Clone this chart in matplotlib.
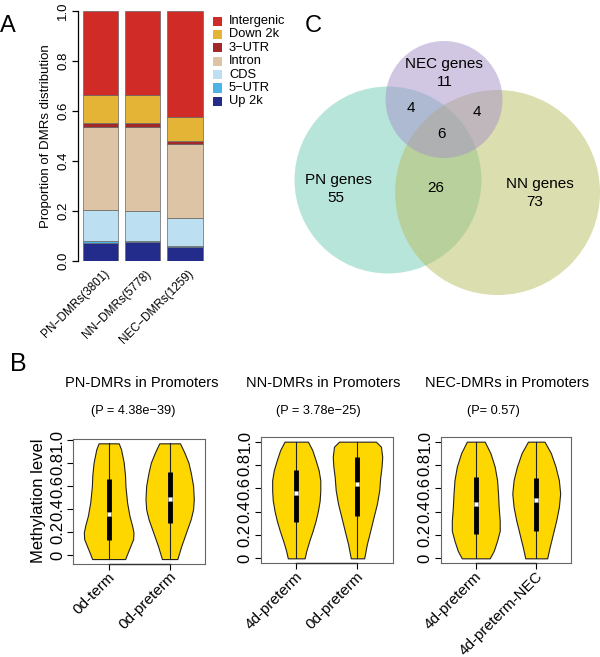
import matplotlib
matplotlib.use("Agg")
import matplotlib.pyplot as plt
import matplotlib.transforms as mtransforms
from matplotlib.patches import Rectangle, Circle

plt.rcParams['font.family'] = ['Liberation Sans', 'DejaVu Sans']

# ---- panel A data: proportion of DMRs per genomic feature ----
groups = ['PN−DMRs(3801)', 'NN−DMRs(5778)', 'NEC−DMRs(1259)']
features = ['Up 2k', '5−UTR', 'CDS', 'Intron', '3−UTR', 'Down 2k', 'Intergenic']
feature_colors = ['#232C8B', '#4DB3E6', '#BCDFF2', '#DCC4A4', '#A3282A', '#E3B436', '#D02B27']
up2k = [0.074, 0.076, 0.057]
utr5 = [0.005, 0.003, 0.004]
cds = [0.125, 0.122, 0.111]
intron = [0.331, 0.336, 0.296]
utr3 = [0.016, 0.016, 0.013]
down2k = [0.113, 0.111, 0.094]
intergenic = [0.336, 0.336, 0.425]

# ---- panel C data: venn counts ----
venn_pn_only = 55
venn_nn_only = 73
venn_nec_only = 11
venn_pn_nec = 4
venn_nn_nec = 4
venn_pn_nn = 26
venn_all = 6

# ---- panel B data: violin outlines (level, half width) ----
pn_term_y = [0.974, 0.922, 0.806, 0.690, 0.603, 0.458, 0.342, 0.255, 0.197, 0.139, 0.081, 0.023, -0.035]
pn_term_w = [0.165, 0.203, 0.247, 0.269, 0.275, 0.302, 0.341, 0.385, 0.407, 0.401, 0.357, 0.313, 0.270]
pn_term_box = [0.133, 0.354, 0.667]
pn_pre_y = [0.974, 0.893, 0.806, 0.719, 0.603, 0.487, 0.400, 0.313, 0.197, 0.081, -0.035]
pn_pre_w = [0.170, 0.242, 0.308, 0.346, 0.385, 0.396, 0.385, 0.346, 0.269, 0.192, 0.126]
pn_pre_box = [0.278, 0.493, 0.725]

nn_4d_y = [1.0, 0.928, 0.841, 0.755, 0.669, 0.582, 0.496, 0.409, 0.323, 0.236, 0.150, 0.063, 0.0]
nn_4d_w = [0.191, 0.262, 0.317, 0.366, 0.393, 0.393, 0.383, 0.355, 0.317, 0.268, 0.213, 0.164, 0.137]
nn_4d_box = [0.308, 0.559, 0.755]
nn_0d_y = [1.0, 0.957, 0.870, 0.784, 0.697, 0.582, 0.467, 0.352, 0.236, 0.121, 0.0]
nn_0d_w = [0.301, 0.383, 0.404, 0.393, 0.372, 0.355, 0.317, 0.262, 0.208, 0.153, 0.109]
nn_0d_box = [0.366, 0.640, 0.865]

nec_4d_y = [1.0, 0.902, 0.786, 0.671, 0.555, 0.439, 0.324, 0.237, 0.150, 0.064, 0.0]
nec_4d_w = [0.148, 0.242, 0.313, 0.352, 0.368, 0.379, 0.396, 0.396, 0.352, 0.297, 0.231]
nec_4d_box = [0.208, 0.468, 0.694]
nec_4dn_y = [1.0, 0.902, 0.786, 0.671, 0.555, 0.439, 0.324, 0.208, 0.092, 0.0]
nec_4dn_w = [0.137, 0.242, 0.319, 0.374, 0.396, 0.374, 0.330, 0.275, 0.220, 0.181]
nec_4dn_box = [0.231, 0.497, 0.685]

titles = ['PN-DMRs in Promoters', 'NN-DMRs in Promoters', 'NEC-DMRs in Promoters']
pvalues = ['(P = 4.38e−39)', '(P = 3.78e−25)', '(P= 0.57)']
violin_labels = [['0d-term', '0d-preterm'], ['4d-preterm', '0d-preterm'], ['4d-preterm', '4d-preterm-NEC']]

W, H = 600, 657


def box(x0, y0, x1, y1):
    # pixel rectangle -> figure fraction
    return [x0 / W, 1 - y1 / H, (x1 - x0) / W, (y1 - y0) / H]


fig = plt.figure(figsize=(6, 6.57), dpi=100)


def shift_labels(labels, dx_px, dy_px=0):
    off = mtransforms.ScaledTranslation(dx_px / 100, -dy_px / 100, fig.dpi_scale_trans)
    for lab in labels:
        lab.set_transform(lab.get_transform() + off)


# ================= panel A =================
axA = fig.add_axes(box(77.7, 11, 215, 261))
xs = [0.7, 1.9, 3.1]
segments = [up2k, utr5, cds, intron, utr3, down2k, intergenic]
bottom = [0, 0, 0]
for seg, col in zip(segments, feature_colors):
    axA.bar(xs, seg, width=1.0, bottom=bottom, color=col, edgecolor='#666666', linewidth=0.5)
    bottom = [b + s for b, s in zip(bottom, seg)]
axA.set_xlim(0.058, 3.95)
axA.set_ylim(0, 1)
for s in ['top', 'right', 'bottom']:
    axA.spines[s].set_visible(False)
axA.spines['left'].set_linewidth(0.9)
axA.set_yticks([0, 0.2, 0.4, 0.6, 0.8, 1.0])
axA.set_yticklabels(['0.0', '0.2', '0.4', '0.6', '0.8', '1.0'], rotation=90, va='center', fontsize=9.5)
axA.tick_params(axis='y', length=4, width=0.9, pad=2)
axA.set_xticks(xs)
axA.set_xticklabels(groups, rotation=45, ha='right', va='center', rotation_mode='anchor', fontsize=8.5)
axA.tick_params(axis='x', length=0, pad=8)
shift_labels(axA.get_xticklabels(), 7)
axA.set_ylabel('Proportion of DMRs distribution', fontsize=9.5, labelpad=4)

# legend drawn top-down
leg_y0 = 21
for i, (name, col) in enumerate(zip(features[::-1], feature_colors[::-1])):
    yy = leg_y0 + i * 13.4
    fig.patches.append(Rectangle((213 / W, 1 - (yy + 4.5) / H), 9 / W, 9 / H,
                                 transform=fig.transFigure, facecolor=col, edgecolor='none'))
    fig.text(229 / W, 1 - yy / H, name, fontsize=9.3, va='center', ha='left')

fig.text(8 / W, 1 - 26 / H, 'A', fontsize=17, ha='center', va='center')

# ================= panel C =================
axC = fig.add_axes(box(270, 0, 600, 330))
axC.set_xlim(270, 600)
axC.set_ylim(330, 0)
axC.axis('off')
axC.add_patch(Circle((388, 180), 93.5, facecolor='#73CDB7', alpha=0.5, edgecolor='none', clip_on=False))
axC.add_patch(Circle((497.5, 192.5), 102.5, facecolor='#B9BF5F', alpha=0.5, edgecolor='none', clip_on=False))
axC.add_patch(Circle((444, 99.5), 58.5, facecolor='#A591C9', alpha=0.5, edgecolor='none', clip_on=False))
vfs = 11
axC.text(444, 64, 'NEC genes', fontsize=vfs, ha='center', va='center')
axC.text(445, 82, str(venn_nec_only), fontsize=vfs, ha='center', va='center')
axC.text(411, 108, str(venn_pn_nec), fontsize=vfs, ha='center', va='center')
axC.text(477, 112, str(venn_nn_nec), fontsize=vfs, ha='center', va='center')
axC.text(441, 134, str(venn_all), fontsize=vfs, ha='center', va='center')
axC.text(338, 180, 'PN genes', fontsize=vfs, ha='center', va='center')
axC.text(336, 198, str(venn_pn_only), fontsize=vfs, ha='center', va='center')
axC.text(436, 188, str(venn_pn_nn), fontsize=vfs, ha='center', va='center')
axC.text(540, 184, 'NN genes', fontsize=vfs, ha='center', va='center')
axC.text(535, 202, str(venn_nn_only), fontsize=vfs, ha='center', va='center')
fig.text(313 / W, 1 - 26 / H, 'C', fontsize=17, ha='center', va='center')

# ================= panel B =================
violins = [
    [(pn_term_y, pn_term_w, pn_term_box), (pn_pre_y, pn_pre_w, pn_pre_box)],
    [(nn_4d_y, nn_4d_w, nn_4d_box), (nn_0d_y, nn_0d_w, nn_0d_box)],
    [(nec_4d_y, nec_4d_w, nec_4d_box), (nec_4dn_y, nec_4dn_w, nec_4dn_box)],
]
ax_boxes = [(73.3, 438.7, 205, 563.7), (260.7, 437, 393, 563), (440.7, 437, 571.3, 563)]
title_x = [142, 323, 507]
pval_x = [133, 318, 493]

for k in range(3):
    ax = fig.add_axes(box(*ax_boxes[k]))
    lo = min(min(v[0]) for v in violins[k])
    hi = max(max(v[0]) for v in violins[k])
    pad = 0.04 * (hi - lo)
    for j, (ys, ws, bx) in enumerate(violins[k]):
        c = j + 1
        ax.fill_betweenx(ys, [c - w for w in ws], [c + w for w in ws],
                         facecolor='#FFD700', edgecolor='#222222', linewidth=0.8, zorder=2)
        ax.plot([c, c], [min(ys), max(ys)], color='#222222', lw=0.8, zorder=3)
        ax.plot([c, c], [bx[0], bx[2]], color='black', lw=3.5, solid_capstyle='butt', zorder=4)
        ax.plot([c], [bx[1]], marker='s', ms=3.2, mfc='white', mec='#999999', mew=0.5, zorder=5)
    ax.set_xlim(0.42, 2.58)
    ax.set_ylim(lo - pad, hi + pad)
    for s in ax.spines.values():
        s.set_color('#666666')
        s.set_linewidth(0.8)
    ax.plot([1, 2], [lo - pad, lo - pad], color='#333333', lw=1.0, clip_on=False, zorder=6)
    ax.set_yticks([0, 0.2, 0.4, 0.6, 0.8, 1.0])
    ax.set_yticklabels(['0', '0.2', '0.4', '0.6', '0.8', '1.0'], rotation=90, va='center', fontsize=12)
    ax.tick_params(axis='y', length=4, width=0.8, pad=2)
    ax.set_xticks([1, 2])
    ax.set_xticklabels(violin_labels[k], rotation=45, ha='right', va='center', rotation_mode='anchor', fontsize=11)
    ax.tick_params(axis='x', length=4, width=0.8, pad=4)
    shift_labels(ax.get_xticklabels(), 4)
    if k == 0:
        ax.set_ylabel('Methylation level', fontsize=12, labelpad=3)
    fig.text(title_x[k] / W, 1 - 383 / H, titles[k], fontsize=10.5, ha='center', va='center')
    fig.text(pval_x[k] / W, 1 - 411 / H, pvalues[k], fontsize=9.2,
             family=['Liberation Sans Narrow', 'Liberation Sans', 'DejaVu Sans'], ha='center', va='center')

fig.text(18 / W, 1 - 364 / H, 'B', fontsize=18, ha='center', va='center')

fig.savefig('out.png', dpi=100)
